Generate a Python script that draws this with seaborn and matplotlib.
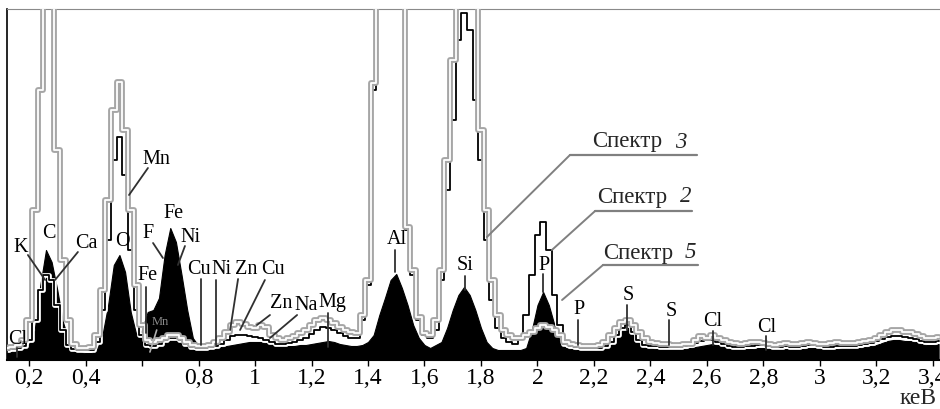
import numpy as np
import matplotlib
matplotlib.use('Agg')
import matplotlib.pyplot as plt
import matplotlib.patheffects as pe
import seaborn as sns

# energy channels, keV
energy = np.round(np.arange(0.12, 3.4201, 0.02), 2)

# Спектр 5 (filled black)
spectrum_5 = [8, 9, 10, 12, 16, 30, 75, 110, 98, 70,
              38, 20, 10, 8, 7, 7, 10, 25, 55, 95,
              105, 88, 48, 25, 30, 48, 50, 62, 105, 132,
              118, 85, 50, 22, 14, 12, 12, 12, 13, 14,
              15, 16, 17, 18, 18, 18, 17, 16, 15, 14,
              14, 14, 15, 15, 16, 17, 18, 19, 18, 16,
              15, 14, 14, 15, 18, 25, 45, 62, 80, 86,
              72, 55, 35, 22, 15, 12, 15, 18, 32, 50,
              65, 73, 65, 50, 32, 18, 12, 10, 10, 10,
              10, 10, 12, 30, 55, 68, 55, 35, 18, 12,
              11, 10, 10, 10, 10, 11, 13, 15, 22, 30,
              33, 25, 17, 13, 12, 11, 11, 11, 11, 11,
              11, 12, 13, 14, 15, 16, 15, 14, 12, 11,
              11, 11, 11, 12, 12, 12, 11, 11, 11, 11,
              11, 11, 12, 12, 12, 11, 11, 11, 12, 12,
              12, 12, 13, 14, 15, 17, 19, 20, 20, 19,
              19, 18, 16, 15, 15, 16]

# Спектр 2 (black line)
spectrum_2 = [10, 11, 12, 14, 20, 40, 70, 85, 80, 55,
              30, 15, 11, 10, 10, 10, 18, 50, 120, 200,
              223, 185, 110, 50, 25, 15, 14, 16, 20, 22,
              22, 20, 16, 13, 12, 12, 13, 14, 16, 20,
              24, 25, 25, 24, 23, 22, 20, 18, 16, 16,
              17, 18, 20, 22, 26, 30, 33, 32, 30, 27,
              24, 22, 22, 40, 75, 270, 420, 430, 440, 440,
              420, 130, 85, 40, 25, 22, 30, 80, 170, 240,
              320, 347, 330, 260, 200, 120, 60, 32, 22, 18,
              16, 22, 45, 85, 125, 138, 110, 65, 35, 16,
              14, 13, 12, 12, 12, 12, 14, 18, 25, 32,
              35, 28, 20, 15, 14, 14, 13, 13, 13, 13,
              14, 15, 17, 19, 20, 20, 18, 16, 14, 13,
              13, 14, 14, 15, 15, 14, 13, 13, 14, 13,
              13, 14, 15, 15, 14, 13, 13, 14, 14, 14,
              14, 15, 16, 17, 19, 21, 23, 24, 24, 23,
              22, 21, 19, 18, 18, 19]

# Спектр 3 (grey double line)
spectrum_3 = [12, 13, 15, 20, 40, 150, 270, 450, 420, 210,
              100, 40, 16, 12, 12, 13, 25, 70, 160, 250,
              278, 230, 150, 75, 35, 20, 18, 20, 22, 25,
              25, 22, 18, 15, 14, 14, 15, 18, 22, 28,
              35, 38, 36, 33, 32, 35, 33, 25, 22, 20,
              22, 24, 27, 30, 35, 40, 42, 40, 37, 33,
              30, 28, 27, 45, 80, 277, 450, 460, 460, 460,
              450, 133, 90, 43, 27, 25, 40, 90, 200, 300,
              460, 470, 460, 400, 230, 150, 80, 45, 30, 25,
              22, 22, 25, 28, 32, 35, 33, 30, 25, 18,
              16, 15, 14, 14, 14, 15, 18, 25, 32, 38,
              40, 35, 28, 22, 18, 17, 16, 16, 15, 15,
              16, 16, 20, 24, 22, 25, 22, 20, 18, 17,
              16, 17, 18, 18, 17, 16, 15, 16, 17, 16,
              16, 17, 18, 17, 16, 16, 17, 18, 17, 17,
              17, 18, 19, 20, 22, 25, 28, 30, 30, 28,
              28, 26, 24, 22, 22, 23]

tick_values = [0.2, 0.4, 0.6, 0.8, 1.0, 1.2, 1.4, 1.6, 1.8, 2.0,
               2.2, 2.4, 2.6, 2.8, 3.0, 3.2, 3.4]
tick_labels = ['0,2', '0,4', '', '0,8', '1', '1,2', '1,4', '1,6', '1,8', '2',
               '2,2', '2,4', '2,6', '2,8', '3', '3,2', '3,4']

# element label, text position, pointer segment
element_labels = [
    ('Cl', 0.161, 20, (0.158, 12, 0.158, 3)),
    ('K', 0.172, 113, (0.196, 105, 0.257, 80)),
    ('C', 0.271, 127, None),
    ('Ca', 0.402, 116, (0.373, 108, 0.292, 80)),
    ('O', 0.529, 118, None),
    ('Mn', 0.650, 201, (0.621, 192, 0.554, 165)),
    ('Fe', 0.618, 84, (0.614, 73, 0.614, 27)),
    ('F', 0.621, 126, (0.639, 117, 0.674, 102)),
    ('Fe', 0.713, 146, None),
    ('Ni', 0.773, 123, (0.752, 114, 0.727, 95)),
    ('Cu', 0.800, 90, (0.809, 81, 0.809, 15)),
    ('Ni', 0.883, 90, (0.862, 80, 0.862, 15)),
    ('Zn', 0.968, 90, (0.940, 81, 0.912, 30)),
    ('Cu', 1.064, 90, (1.035, 80, 0.947, 30)),
    ('Zn', 1.092, 57, (1.053, 45, 1.007, 35)),
    ('Na', 1.180, 55, (1.149, 45, 1.053, 22)),
    ('Mg', 1.273, 57, (1.258, 47, 1.258, 13)),
    ('Al', 1.503, 120, (1.496, 110, 1.496, 88)),
    ('Si', 1.743, 94, (1.743, 84, 1.743, 70)),
    ('P', 2.023, 95, (2.020, 86, 2.020, 68)),
    ('P', 2.147, 50, (2.143, 40, 2.143, 15)),
    ('S', 2.320, 65, (2.317, 55, 2.317, 30)),
    ('S', 2.473, 49, (2.465, 40, 2.465, 15)),
    ('Cl', 2.621, 39, (2.621, 29, 2.621, 15)),
    ('Cl', 2.812, 33, (2.809, 24, 2.809, 10)),
]

# spectrum name, number, text x, number x, text y, underline y, underline end, pointer
spectrum_labels = [
    ('Спектр', '3', 2.193, 2.487, 218, 205, 2.565, (2.115, 1.821, 123)),
    ('Спектр', '2', 2.211, 2.504, 163, 149, 2.547, (2.204, 2.051, 110)),
    ('Спектр', '5', 2.232, 2.522, 107, 95, 2.568, (2.232, 2.087, 60)),
]

sns.set_theme(style='white')
plt.rcParams['font.family'] = ['Liberation Serif', 'DejaVu Serif']

fig = plt.figure(figsize=(9.4, 4.09), dpi=100)
ax = fig.add_axes([7 / 940, 49 / 409, 933 / 940, 351 / 409])

ax.fill_between(energy, 0, spectrum_5, color='black', lw=0.8, edgecolor='black', zorder=1)
sns.lineplot(x=energy, y=spectrum_2, ax=ax, color='black', lw=1.3,
             drawstyle='steps-mid', zorder=2,
             path_effects=[pe.Stroke(linewidth=3.4, foreground='white'), pe.Normal()])
sns.lineplot(x=energy, y=spectrum_3, ax=ax, color='white', lw=1.3,
             drawstyle='steps-mid', zorder=3,
             path_effects=[pe.Stroke(linewidth=4.2, foreground='#a6a6a6'), pe.Normal()])

for txt, x, y, seg in element_labels:
    ax.text(x, y, txt, fontsize=14.5, ha='center', va='center', color='black', zorder=6)
    if seg is not None:
        ax.plot([seg[0], seg[2]], [seg[1], seg[3]], color='#303030', lw=1.3, zorder=5)

# small grey Mn inside the Fe region
ax.text(0.664, 38, 'Mn', fontsize=9, color='#8a8a8a', ha='center', va='center', zorder=6)
ax.plot([0.628, 0.652], [8, 30], color='#b0b0b0', lw=1.2, zorder=5)

for name, num, tx, nx, ty, uy, uend, (px0, px1, py1) in spectrum_labels:
    ax.text(tx, ty, name, fontsize=16.5, ha='left', va='center', zorder=6)
    ax.text(nx, ty, num, fontsize=16.5, style='italic', ha='left', va='center', zorder=6)
    ax.plot([px0, uend], [uy, uy], color='#808080', lw=1.6, zorder=5)
    ax.plot([px0, px1], [uy, py1], color='#808080', lw=1.4, zorder=5)

ax.set_xlim(0.122, 3.425)
ax.set_ylim(0, 351)
ax.set_xticks(tick_values)
ax.set_xticklabels(tick_labels)
ax.set_yticks([])
ax.set_xlabel('')
ax.set_ylabel('')
ax.tick_params(axis='x', direction='out', length=4, width=1, pad=2,
               labelsize=17, colors='black', bottom=True)

ax.spines['right'].set_visible(False)
ax.spines['top'].set_color('#8a8a8a')
ax.spines['top'].set_linewidth(0.8)
ax.spines['left'].set_color('black')
ax.spines['left'].set_linewidth(1.2)
ax.spines['bottom'].set_color('black')
ax.spines['bottom'].set_linewidth(1.5)

fig.text(900 / 940, 10 / 409, 'кеВ', fontsize=17, ha='left', va='center')

fig.savefig('out.png', dpi=100)
